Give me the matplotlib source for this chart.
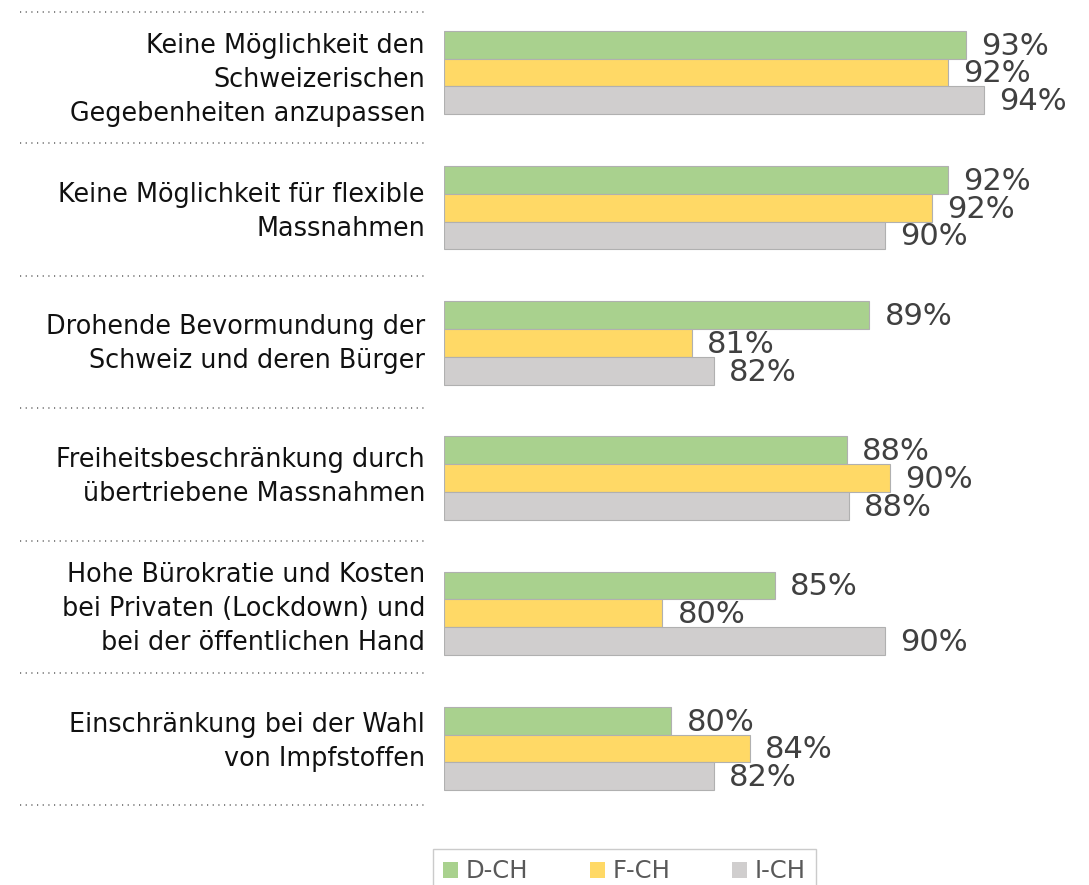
import matplotlib
matplotlib.use("Agg")
import matplotlib.pyplot as plt
from matplotlib.patches import Patch
from matplotlib.lines import Line2D

categories = [
    "Keine Möglichkeit den\nSchweizerischen\nGegebenheiten anzupassen",
    "Keine Möglichkeit für flexible\nMassnahmen",
    "Drohende Bevormundung der\nSchweiz und deren Bürger",
    "Freiheitsbeschränkung durch\nübertriebene Massnahmen",
    "Hohe Bürokratie und Kosten\nbei Privaten (Lockdown) und\nbei der öffentlichen Hand",
    "Einschränkung bei der Wahl\nvon Impfstoffen",
]
series_names = ["D-CH", "F-CH", "I-CH"]
d_ch = [93.2, 92.4, 88.9, 87.9, 84.7, 80.1]
f_ch = [92.4, 91.7, 81.0, 89.8, 79.7, 83.6]
i_ch = [94.0, 89.6, 82.0, 88.0, 89.6, 82.0]

colors = ["#A9D18E", "#FFD966", "#D0CECE"]
W, H = 1089, 885

plt.rcParams["font.family"] = ["DejaVu Sans"]
fig = plt.figure(figsize=(W / 100, H / 100), dpi=100)

top_px, bot_px = 4.9, 816.1
ax = fig.add_axes([444 / W, 1 - bot_px / H, 630 / W, (bot_px - top_px) / H])
ax.set_xlim(70, 98)
ax.set_ylim(5.5, -0.5)
ax.axis("off")

h = 27.8 / 135.2
offsets = [-h, 0, h]
for vals, off, col, name in zip([d_ch, f_ch, i_ch], offsets, colors, series_names):
    ys = [i + off for i in range(len(vals))]
    ax.barh(ys, [v - 70 for v in vals], left=70, height=h, color=col,
            edgecolor="#B0B0B0", linewidth=0.8, label=name)
    for y, v in zip(ys, vals):
        ax.annotate(f"{round(v)}%", (v, y), xytext=(11, -1), textcoords="offset points",
                    va="center", ha="left", fontsize=22, color="#404040")

# dotted separators and category labels (left table)
sep_px = [12, 143, 276, 408, 541, 673, 805]
for y in sep_px:
    fig.add_artist(Line2D([20 / W, 425 / W], [1 - y / H, 1 - y / H],
                          transform=fig.transFigure, color="#6E6E6E",
                          linewidth=1.2, linestyle=(0, (0.7, 2.7))))
for i, cat in enumerate(categories):
    yc = (sep_px[i] + sep_px[i + 1]) / 2 + 2.5
    fig.text(425 / W, 1 - yc / H, cat, ha="right", va="center", fontsize=18.4,
             color="#111111", linespacing=1.4)

handles = [Patch(facecolor=c, edgecolor="none") for c in colors]
leg = fig.legend(handles, series_names, loc="upper left",
                 bbox_to_anchor=(433 / W, 1 - 849 / H), borderaxespad=0,
                 ncol=3, fontsize=17.5, frameon=True, fancybox=False,
                 handlelength=0.62, handleheight=0.62, handletextpad=0.3,
                 columnspacing=2.55, borderpad=0.42, labelcolor="#595959")
leg.get_frame().set_edgecolor("#BFBFBF")
leg.get_frame().set_linewidth(1.0)

fig.savefig("out.png", dpi=100)
